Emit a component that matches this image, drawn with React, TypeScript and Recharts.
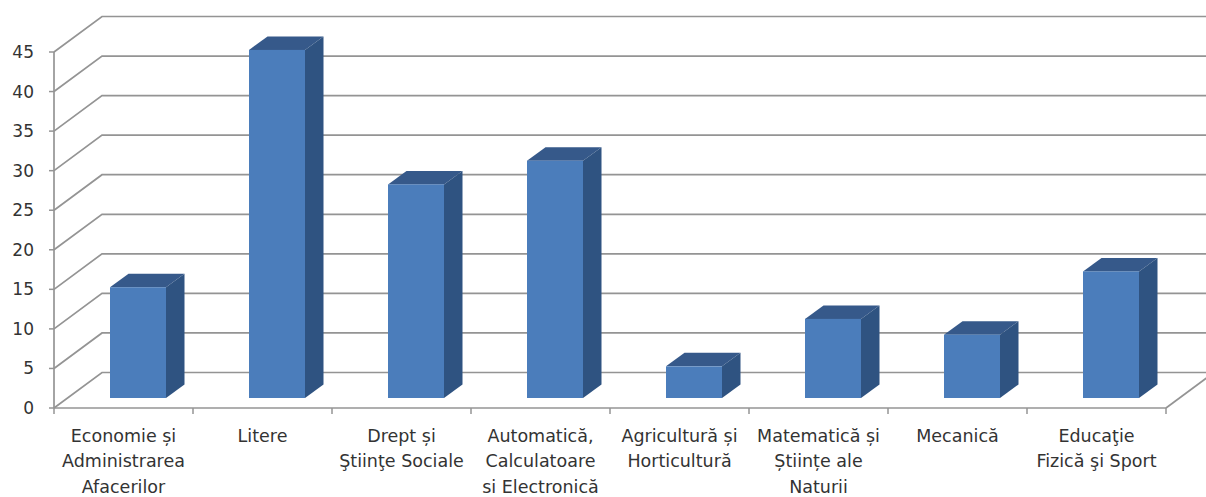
import { BarChart, Bar, XAxis, YAxis, CartesianGrid } from "recharts";

const categories = [
  "Economie și\nAdministrarea\nAfacerilor",
  "Litere",
  "Drept și\nŞtiinţe Sociale",
  "Automatică,\nCalculatoare\nsi Electronică",
  "Agricultură și\nHorticultură",
  "Matematică și\nȘtiințe ale\nNaturii",
  "Mecanică",
  "Educaţie\nFizică şi Sport",
];
const values = [14, 44, 27, 30, 4, 10, 8, 16];
const yTicks = [0, 5, 10, 15, 20, 25, 30, 35, 40, 45];

const data = categories.map((name, i) => ({ name, value: values[i] }));

const GRID = "#949494";
const TEXT = "#333333";
const FONT = "'DejaVu Sans', sans-serif";
const WALL_DX = 48;
const WALL_DY = 35.5;
const BAND = 139;

// gridline runs along the side wall, then along the back wall
const WallLine = (props: any) => {
  const { x1, y1, x2 } = props;
  const bx = x1 + WALL_DX;
  const by = y1 - WALL_DY;
  return (
    <g key={`wall-${y1}`}>
      <path
        d={`M${x1},${y1} L${bx},${by} L${x2 + WALL_DX},${by}`}
        fill="none"
        stroke={GRID}
        strokeWidth={1.7}
      />
      {Math.abs(y1 - 408) < 1 && (
        <line x1={x2} y1={y1} x2={x2 + WALL_DX} y2={by} stroke={GRID} strokeWidth={1.7} />
      )}
    </g>
  );
};

const Bar3D = (props: any) => {
  const { x, y, width, height } = props;
  const fx = x + 14;
  const fy = y - 10;
  const dx = 18.5;
  const dy = 13.5;
  return (
    <g>
      <path
        d={`M${fx},${fy} L${fx + dx},${fy - dy} L${fx + width + dx},${fy - dy} L${fx + width},${fy} Z`}
        fill="#36598a"
      />
      <path
        d={`M${fx + width},${fy} L${fx + width + dx},${fy - dy} L${fx + width + dx},${fy + height - dy} L${fx + width},${fy + height} Z`}
        fill="#2f5381"
      />
      <rect x={fx} y={fy} width={width} height={height} fill="#4b7dbb" />
    </g>
  );
};

const CategoryTick = (props: any) => {
  const { x, y, payload, index } = props;
  const lines: string[] = String(payload.value).split("\n");
  const left = x - BAND / 2;
  const axisY = y - 8;
  return (
    <g>
      <line x1={left} y1={axisY} x2={left} y2={axisY + 6} stroke={GRID} strokeWidth={1.5} />
      {index === categories.length - 1 && (
        <line x1={left + BAND} y1={axisY} x2={left + BAND} y2={axisY + 6} stroke={GRID} strokeWidth={1.5} />
      )}
      {lines.map((line, i) => (
        <text
          key={i}
          x={x}
          y={y + 25.5 + i * 25.5}
          textAnchor="middle"
          fontFamily={FONT}
          fontSize={17.5}
          fill={TEXT}
        >
          {line}
        </text>
      ))}
    </g>
  );
};

export default function App() {
  return (
    <div style={{ position: "absolute", left: 0, top: 0 }}>
      <BarChart
        width={1206}
        height={497}
        data={data}
        margin={{ top: 52, right: 40, bottom: 0, left: 0 }}
      >
        <CartesianGrid vertical={false} horizontal={WallLine} />
        <XAxis
          dataKey="name"
          interval={0}
          height={89}
          tickLine={false}
          tick={CategoryTick}
          axisLine={{ stroke: GRID, strokeWidth: 1.7 }}
        />
        <YAxis
          width={54}
          domain={[0, 45]}
          ticks={yTicks}
          tickSize={5}
          tickMargin={15}
          tickLine={{ stroke: GRID, strokeWidth: 1.5 }}
          axisLine={{ stroke: GRID, strokeWidth: 1.7 }}
          tick={{ fontFamily: FONT, fontSize: 17, fill: TEXT }}
        />
        <Bar dataKey="value" barSize={56} shape={Bar3D} isAnimationActive={false} />
      </BarChart>
    </div>
  );
}
